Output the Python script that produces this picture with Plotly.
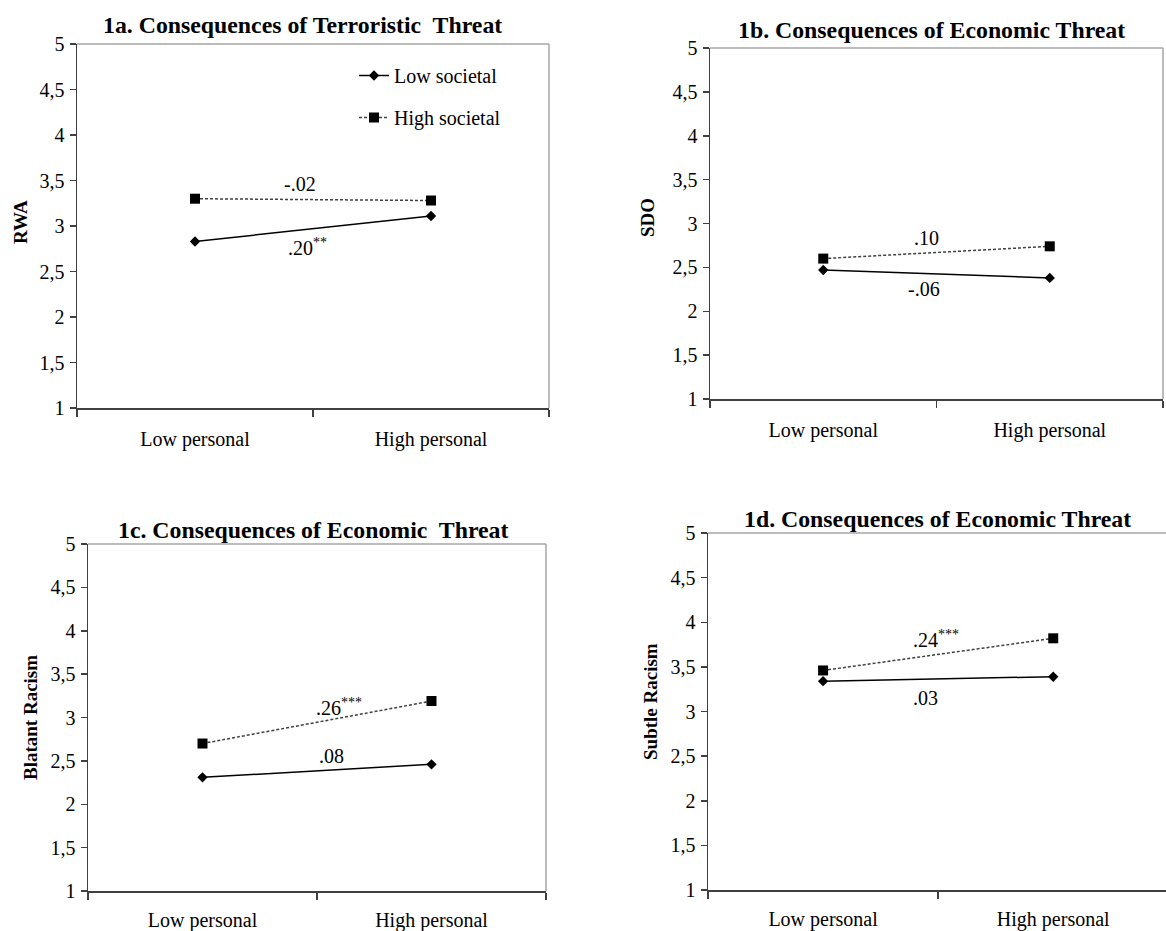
import plotly.graph_objects as go

W, H = 1166, 931

categories = ["Low personal", "High personal"]
series_names = ["Low societal", "High societal"]

low_soc_a = [2.83, 3.11]
high_soc_a = [3.30, 3.28]
low_soc_b = [2.47, 2.38]
high_soc_b = [2.60, 2.74]
low_soc_c = [2.31, 2.46]
high_soc_c = [2.70, 3.19]
low_soc_d = [3.34, 3.39]
high_soc_d = [3.46, 3.82]

slope_low = [".20<sup>**</sup>", "-.06", ".08", ".03"]
slope_high = ["-.02", ".10", ".26<sup>***</sup>", ".24<sup>***</sup>"]

titles = [
    "1a. Consequences of Terroristic\u00a0 Threat",
    "1b. Consequences of Economic Threat",
    "1c. Consequences of Economic\u00a0 Threat",
    "1d. Consequences of Economic Threat",
]
y_titles = ["RWA", "SDO", "Blatant Racism", "Subtle Racism"]

y_tickvals = [1, 1.5, 2, 2.5, 3, 3.5, 4, 4.5, 5]
y_ticktext = ["1", "1,5", "2", "2,5", "3", "3,5", "4", "4,5", "5"]

low_series = [low_soc_a, low_soc_b, low_soc_c, low_soc_d]
high_series = [high_soc_a, high_soc_b, high_soc_c, high_soc_d]

# ---- layout geometry (pixels) ----
# plot areas: (left, right, top, bottom)
areas = [(77, 549, 44, 408), (710, 1163, 48, 399), (88, 546, 544, 891), (708, 1166, 533, 890)]
x_ranges = [[-0.5, 1.5], [-0.5, 1.5], [-0.5, 1.5], [-0.5, 1.49]]
x_standoff = [12, 12, 10, 10]
title_pos = [(302, 25), (931, 30), (313, 530), (937, 519)]
ytitle_pos = [(20, 222), (647, 218), (30, 718), (650, 701)]
label_low_pos = [(0.475, 2.77), (0.445, 2.25), (0.565, 2.56), (0.444, 3.15)]
label_high_pos = [(0.445, 3.458), (0.458, 2.84), (0.594, 3.12), (0.489, 3.81)]

FONT = "Liberation Serif"
AX = "#404040"
BORDER = "#a6a6a6"

fig = go.Figure()
layout = dict(
    template="none",
    width=W, height=H,
    margin=dict(l=0, r=0, t=0, b=0, pad=0, autoexpand=False),
    paper_bgcolor="white", plot_bgcolor="white",
    font=dict(family=FONT, size=20, color="black"),
    showlegend=True,
    legend=dict(x=354 / W, y=1 - 56 / H, xanchor="left", yanchor="top",
                bgcolor="rgba(0,0,0,0)", font=dict(size=20, family=FONT),
                tracegroupgap=13, itemwidth=30),
)
annotations = []
shapes = []

for i in range(4):
    sfx = "" if i == 0 else str(i + 1)
    l, r, t, b = areas[i]
    xa = "xaxis" + sfx
    ya = "yaxis" + sfx
    layout[xa] = dict(
        domain=[l / W, min(r / W, 1.0)], anchor="y" + sfx, automargin=False,
        type="category", categoryorder="array", categoryarray=categories,
        range=x_ranges[i], tickson="boundaries", ticks="outside", ticklen=7,
        tickwidth=1.5, tickcolor=AX, showline=True, linecolor=AX, linewidth=1.5,
        showgrid=False, zeroline=False, fixedrange=True,
        ticklabelstandoff=x_standoff[i],
        tickfont=dict(size=20, family=FONT, color="black"),
    )
    layout[ya] = dict(
        domain=[1 - b / H, 1 - t / H], anchor="x" + sfx, automargin=False,
        range=[1, 5], tickvals=y_tickvals, ticktext=y_ticktext,
        ticks="outside", ticklen=6, tickwidth=1.5, tickcolor=AX,
        showline=True, linecolor=AX, linewidth=1.5, showgrid=False,
        zeroline=False, fixedrange=True, ticklabelstandoff=1,
        tickfont=dict(size=20, family=FONT, color="black"),
    )
    # light plot-area border (top / right)
    xd, yd = "x" + sfx + " domain", "y" + sfx + " domain"
    shapes.append(dict(type="line", xref=xd, yref=yd, x0=0, x1=1, y0=1, y1=1,
                       line=dict(color=BORDER, width=1.5), layer="below"))
    if i != 3:
        shapes.append(dict(type="line", xref=xd, yref=yd, x0=1, x1=1, y0=0, y1=1,
                           line=dict(color=BORDER, width=1.5), layer="below"))

    fig.add_trace(go.Scatter(
        x=categories, y=low_series[i], name=series_names[0],
        xaxis="x" + sfx, yaxis="y" + sfx, mode="lines+markers",
        line=dict(color="black", width=1.5),
        marker=dict(symbol="diamond", size=8, color="black"),
        legendgroup="low", showlegend=(i == 0), hoverinfo="skip",
    ))
    fig.add_trace(go.Scatter(
        x=categories, y=high_series[i], name=series_names[1],
        xaxis="x" + sfx, yaxis="y" + sfx, mode="lines+markers",
        line=dict(color="#404040", width=1.5, dash="3px,2px"),
        marker=dict(symbol="square", size=10, color="black"),
        legendgroup="high", showlegend=(i == 0), hoverinfo="skip",
    ))

    # slope labels
    for txt, (px, py) in ((slope_low[i], label_low_pos[i]), (slope_high[i], label_high_pos[i])):
        annotations.append(dict(text=txt, x=px, y=py, xref="x" + sfx, yref="y" + sfx,
                                showarrow=False, xanchor="center", yanchor="middle",
                                font=dict(size=20, family=FONT, color="black")))
    # panel title
    tx, ty = title_pos[i]
    annotations.append(dict(text="<b>" + titles[i] + "</b>", x=tx / W, y=1 - ty / H,
                            xref="paper", yref="paper", showarrow=False,
                            xanchor="center", yanchor="middle",
                            font=dict(size=23.8, family=FONT, color="black")))
    # y-axis title
    yx, yy = ytitle_pos[i]
    annotations.append(dict(text="<b>" + y_titles[i] + "</b>", x=yx / W, y=1 - yy / H,
                            xref="paper", yref="paper", showarrow=False, textangle=-90,
                            xanchor="center", yanchor="middle",
                            font=dict(size=19, family=FONT, color="black")))

layout["annotations"] = annotations
layout["shapes"] = shapes
fig.update_layout(**layout)
fig.write_html("out.html",
               config={"displayModeBar": False, "staticPlot": True},
               post_script="document.body.style.margin='0';document.body.style.overflow='hidden';")
